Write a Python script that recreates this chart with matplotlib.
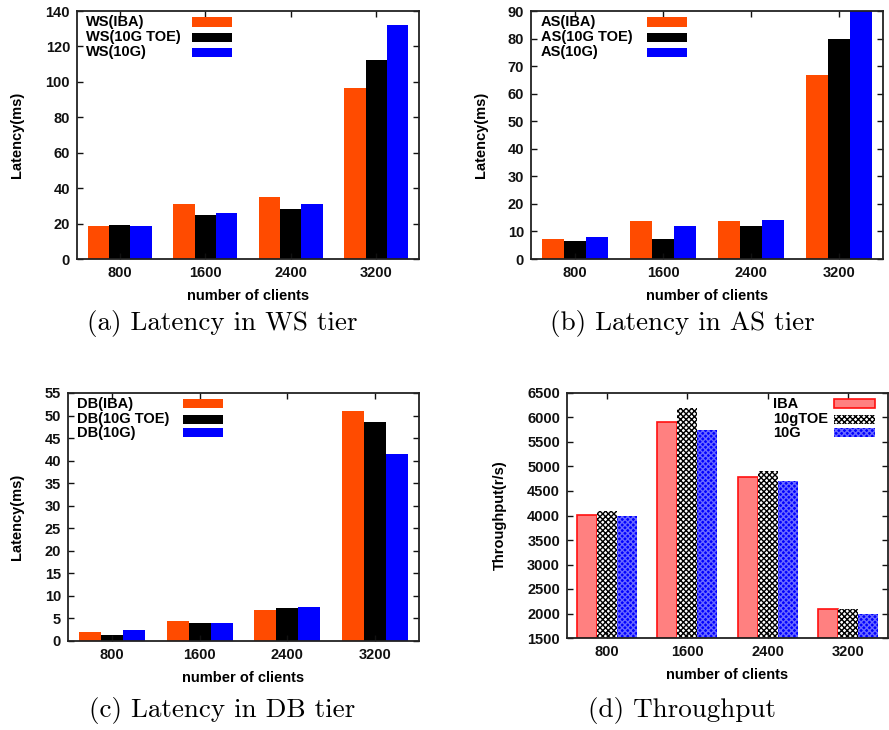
import matplotlib
matplotlib.use("Agg")
import matplotlib.pyplot as plt
from matplotlib.patches import Rectangle
import numpy as np

clients = ["800", "1600", "2400", "3200"]

ws_labels = ["WS(IBA)", "WS(10G TOE)", "WS(10G)"]
ws_iba = [18.6, 31.0, 35.0, 96.7]
ws_toe = [19.2, 24.6, 28.2, 112.5]
ws_10g = [18.6, 26.0, 31.0, 132.1]

as_labels = ["AS(IBA)", "AS(10G TOE)", "AS(10G)"]
as_iba = [7.4, 13.8, 13.7, 66.6]
as_toe = [6.7, 7.3, 12.0, 79.7]
as_10g = [8.0, 12.0, 14.2, 95.0]

db_labels = ["DB(IBA)", "DB(10G TOE)", "DB(10G)"]
db_iba = [1.9, 4.4, 6.9, 50.9]
db_toe = [1.3, 3.9, 7.3, 48.6]
db_10g = [2.4, 3.9, 7.5, 41.5]

tp_labels = ["IBA", "10gTOE", "10G"]
tp_iba = [4010, 5900, 4790, 2100]
tp_toe = [4100, 6200, 4900, 2090]
tp_10g = [4000, 5750, 4700, 1980]

captions = ["(a) Latency in WS tier", "(b) Latency in AS tier",
            "(c) Latency in DB tier", "(d) Throughput"]

W, H = 889, 730
plt.rcParams['font.family'] = ['Liberation Sans', 'DejaVu Sans']
plt.rcParams['font.weight'] = 'bold'
plt.rcParams['hatch.linewidth'] = 1.0

fig = plt.figure(figsize=(W / 100, H / 100), dpi=100)


def add_axes(l, r, t, b):
    return fig.add_axes([l / W, 1 - b / H, (r - l) / W, (b - t) / H])


ORANGE = "#ff4b00"
plain_styles = [dict(color=ORANGE, lw=0), dict(color="black", lw=0), dict(color="#0000ff", lw=0)]
tp_styles = [dict(facecolor="#ff8080", edgecolor="#ff1010", lw=1.2),
             dict(facecolor="white", edgecolor="black", hatch="xxxxxx", lw=0),
             dict(facecolor="#0000ff", edgecolor="#6a6aff", hatch="xxxxxx", lw=0)]

panels = [
    dict(box=(77, 419, 11, 259), series=[ws_iba, ws_toe, ws_10g], labels=ws_labels,
         ylim=(0, 140), yticks=np.arange(0, 141, 20), styles=plain_styles,
         ylabel="Latency(ms)", leg=(86, 192, 232, [22, 37, 52]), ylab_x=17, xlab_y=296),
    dict(box=(531, 883, 11, 259), series=[as_iba, as_toe, as_10g], labels=as_labels,
         ylim=(0, 90), yticks=np.arange(0, 91, 10), styles=plain_styles,
         ylabel="Latency(ms)", leg=(541, 647, 687, [22, 37, 52]), ylab_x=481, xlab_y=296),
    dict(box=(68, 419, 393, 641), series=[db_iba, db_toe, db_10g], labels=db_labels,
         ylim=(0, 55), yticks=np.arange(0, 56, 5), styles=plain_styles,
         ylabel="Latency(ms)", leg=(77, 183, 223, [404, 419, 433]), ylab_x=17, xlab_y=678),
    dict(box=(567, 888, 393, 638), series=[tp_iba, tp_toe, tp_10g], labels=tp_labels,
         ylim=(1500, 6500), yticks=np.arange(1500, 6501, 500), styles=tp_styles,
         ylabel="Throughput(r/s)", leg=(773, 834, 875, [404, 419, 433]), ylab_x=500, xlab_y=675),
]
cap_pos = [(222, 324), (682, 324), (222, 710), (682, 710)]

x = np.arange(len(clients))
width = 0.25
for p, cap, cpos in zip(panels, captions, cap_pos):
    l, r, t, b = p["box"]
    ax = add_axes(l, r, t, b)
    for i, (vals, st) in enumerate(zip(p["series"], p["styles"])):
        bottom = p["ylim"][0]
        ax.bar(x + (i - 1) * width, np.array(vals) - bottom, width, bottom=bottom, **st)
    ax.set_xlim(-0.5, 3.5)
    ax.set_ylim(*p["ylim"])
    ax.set_yticks(p["yticks"])
    ax.set_xticks(x)
    ax.set_xticklabels(clients)
    ax.tick_params(direction="in", top=True, right=True, length=4, width=1,
                   labelsize=10.5, colors="#111111", pad=5)
    for s in ax.spines.values():
        s.set_linewidth(1.3)
        s.set_color("#222222")
    for lbl in ax.get_xticklabels() + ax.get_yticklabels():
        lbl.set_fontweight("bold")
    # axis labels positioned in figure pixels
    fig.text(p["ylab_x"] / W, 1 - (t + b) / 2 / H, p["ylabel"], rotation=90,
             ha="center", va="center", fontsize=10.5, fontweight="bold")
    fig.text((l + r) / 2 / W, 1 - p["xlab_y"] / H, "number of clients",
             ha="center", va="center", fontsize=10.5, fontweight="bold")
    # gnuplot-style key
    tx, bx0, bx1, rows = p["leg"]
    for lab, st, ry in zip(p["labels"], p["styles"], rows):
        fig.text(tx / W, 1 - ry / H, lab, ha="left", va="center",
                 fontsize=10.5, fontweight="bold")
        kw = dict(st)
        if "color" in kw:
            kw["facecolor"] = kw.pop("color")
        rect = Rectangle((bx0 / W, 1 - (ry + 4.5) / H), (bx1 - bx0) / W, 9 / H,
                         transform=fig.transFigure, **kw)
        fig.patches.append(rect)
    fig.text(cpos[0] / W, 1 - cpos[1] / H, cap, ha="center", va="center",
             fontsize=19.5, family="cmr10", fontweight="normal")

fig.savefig("out.png", dpi=100)
